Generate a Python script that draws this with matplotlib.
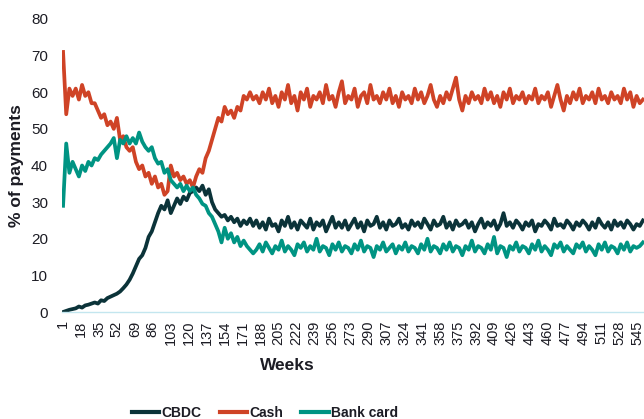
"""Share of payments by instrument over simulated weeks."""

import matplotlib

matplotlib.use("Agg")
import matplotlib.pyplot as plt
import numpy as np

plt.rcParams["font.family"] = ["Liberation Sans", "DejaVu Sans"]

# one reading every third week, starting at week 1
WEEK_STEP = 3
TICK_WEEKS = list(range(1, 546, 17))

cbdc_head = [
    0, 0.3, 0.6, 0.8, 1.0, 1.5, 1.2, 1.8, 2.0, 2.3,
    2.6, 2.3, 3.2, 3.0, 3.8, 4.2, 4.6, 5.0, 5.6, 6.5,
    7.5, 8.8, 10.5, 12.5, 14.5, 15.5, 17.5, 20.5, 22, 24.5,
    27, 29, 28, 30.5, 27, 29, 31, 29.5, 31.5, 30.5,
    32.5, 33, 34, 33, 34.5, 32, 33.5, 30, 28, 27,
    26, 26.5, 25, 26, 24.5, 25.5, 23.5, 25, 24, 25.5,
    23.5,
]
cbdc_tail = [
    25, 23, 24.5, 22.5, 25.5, 23.5, 24, 22, 25, 23.5,
    26, 23, 24.5, 22.5, 25, 24, 23, 25.5, 22.5, 24.5,
    23.5, 25, 22, 24, 26, 23, 24.5, 23, 25, 22.5,
    24, 25.5, 23, 24.5, 22, 25, 23.5, 24, 26, 23,
    24.5, 22.5, 25, 23.5, 24, 25.5, 23, 24, 22.5, 25,
    23.5, 24.5, 23, 25.5, 24, 22.5, 25, 23.5, 24, 26,
    23, 24.5, 22.5, 25, 23.5, 24, 25, 23, 24.5, 22,
    24, 25.5, 23, 24.5, 23.5, 25, 22.5, 24, 27, 23.5,
    24.5, 23, 25, 24, 22.5, 24.5, 23.5, 25, 22, 24,
    23.5, 25, 24, 22.5, 25.5, 23.5, 24, 23, 25, 24,
    22.5, 24.5, 23.5, 25, 24, 22.5, 24.5, 23, 25.5, 24,
    23, 24.5, 22.5, 25, 23.5, 24.5, 23, 25, 24, 22.5,
    24, 23.5, 25,
]

cash_head = [
    71, 54, 61, 59, 61, 58, 62, 59, 60, 57,
    57, 55, 53, 54, 51, 52, 50, 53, 47, 48,
    45, 44, 45, 41, 39, 40, 37, 38, 35, 37,
    34, 35, 32, 33, 40, 37, 38, 36, 37, 35,
    36, 34, 37, 39, 38, 42, 44, 47, 50, 53,
    52, 56, 54, 55, 53, 56, 55, 59, 58, 60,
    58,
]
cash_tail = [
    59, 57, 60, 58, 61, 57, 59, 56, 60, 58,
    62, 57, 59, 55, 60, 58, 61, 56, 59, 58,
    60, 57, 62, 58, 59, 56, 60, 63, 57, 59,
    58, 61, 56, 59, 60, 57, 62, 58, 59, 57,
    60, 58, 61, 57, 59, 56, 60, 58, 59, 57,
    61, 58, 60, 57, 59, 62, 58, 56, 59, 57,
    60, 58, 61, 64, 58, 55, 59, 57, 60, 58,
    59, 57, 61, 58, 60, 57, 59, 56, 60, 58,
    61, 57, 59, 58, 60, 57, 59, 58, 61, 57,
    59, 58, 60, 56, 59, 62, 58, 55, 59, 57,
    60, 58, 61, 57, 59, 58, 60, 57, 61, 58,
    59, 57, 60, 58, 59, 57, 61, 58, 60, 56,
    59, 57, 58,
]

card_head = [
    29, 46, 38, 41, 39, 37, 40, 38.5, 41, 40,
    42, 41.5, 43, 44, 45, 46, 47.5, 42, 47, 46,
    48, 46, 47.5, 46, 49, 46.5, 45, 44, 45, 42,
    40.5, 41, 38, 39, 36, 35, 34, 35, 33, 34.5,
    33, 34, 32, 31, 29.5, 29, 27, 26, 24, 22,
    19, 23, 20, 21.5, 19, 20.5, 18, 19.5, 18, 17,
    16,
]
card_tail = [
    17, 18.5, 16.5, 19, 17.5, 16, 18, 17, 19.5, 16.5,
    18, 17, 15.5, 18.5, 17.5, 19, 16.5, 18, 17, 20,
    16.5, 18, 17.5, 15.5, 18.5, 17, 19, 16.5, 18, 17.5,
    16, 18.5, 17, 19.5, 16.5, 18, 17.5, 15, 18, 17,
    19, 16.5, 17.5, 18.5, 16, 18, 17, 19, 16.5, 18,
    17.5, 16, 18.5, 17, 20, 16.5, 18, 17.5, 16, 18.5,
    17, 19, 16.5, 18, 17.5, 15.5, 18, 17, 19.5, 16.5,
    18, 17.5, 16, 18.5, 17, 20.5, 16, 18, 17.5, 15,
    18, 17, 19, 16.5, 18, 17.5, 16, 18.5, 17, 19.5,
    16.5, 18, 17, 15.5, 18.5, 17.5, 19, 16.5, 18, 17,
    16, 18.5, 17.5, 19, 16.5, 18, 17, 15.5, 18.5, 17,
    19, 16.5, 18, 17.5, 16, 18.5, 17, 19, 16.5, 18,
    17.5, 18, 19,
]

SERIES = [
    ("CBDC", cbdc_head + cbdc_tail, "#0b3339"),
    ("Cash", cash_head + cash_tail, "#cf4326"),
    ("Bank card", card_head + card_tail, "#009483"),
]

TEXT_COLOR = "#1c1c24"


def main() -> None:
    fig = plt.figure(figsize=(6.44, 4.19), dpi=100)
    ax = fig.add_axes([62 / 644, 107 / 419, 1 - 62 / 644, 293 / 419])

    for name, values, color in SERIES:
        weeks = 1 + WEEK_STEP * np.arange(len(values))
        ax.plot(weeks, values, color=color, lw=2.7, label=name, solid_joinstyle="round")

    ax.set_xlim(0, 551)
    ax.set_ylim(0, 80)
    ax.set_yticks(range(0, 81, 10))
    ax.set_xticks(TICK_WEEKS)
    ax.set_xticklabels([str(w) for w in TICK_WEEKS], rotation=90)
    ax.tick_params(axis="x", length=0, labelsize=10.5, colors=TEXT_COLOR, pad=6)
    ax.tick_params(axis="y", length=0, labelsize=11, colors=TEXT_COLOR, pad=10)

    for side in ("top", "right", "left"):
        ax.spines[side].set_visible(False)
    ax.spines["bottom"].set_color("#c3e6ef")
    ax.spines["bottom"].set_linewidth(1.0)

    fig.text(287 / 644, 1 - 365 / 419, "Weeks", ha="center", va="center",
             fontsize=12.5, fontweight="bold", color=TEXT_COLOR)
    fig.text(17 / 644, 1 - 166 / 419, "% of payments", ha="center", va="center",
             rotation=90, fontsize=12.5, fontweight="bold", color=TEXT_COLOR)

    leg = fig.legend(loc="center", bbox_to_anchor=(265 / 644, 1 - 413 / 419), ncol=3,
                     frameon=False, handlelength=2.0, handletextpad=0.15,
                     columnspacing=1.3, prop={"weight": "bold", "size": 10})
    for line in leg.get_lines():
        line.set_linewidth(3.0)
    for text in leg.get_texts():
        text.set_color(TEXT_COLOR)

    fig.savefig("out.png", dpi=100)
    plt.close(fig)


if __name__ == "__main__":
    main()
